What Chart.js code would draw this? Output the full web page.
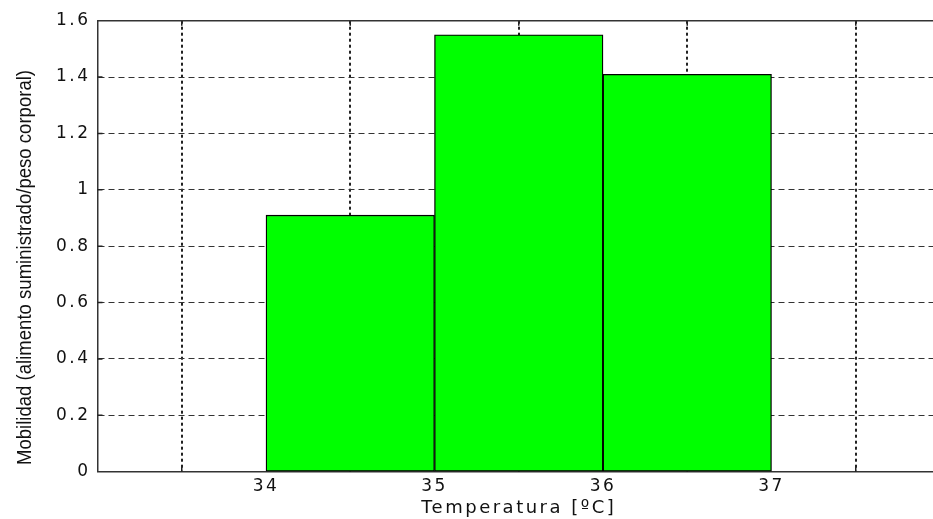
<!DOCTYPE html>
<html>
<head>
<meta charset="utf-8">
<script src="https://cdn.jsdelivr.net/npm/chart.js@4/dist/chart.umd.min.js"></script>
<style>
  html, body { margin: 0; padding: 0; background: #fff; overflow: hidden; width: 933px; height: 519px; }
  #wrap { position: relative; width: 942px; height: 519px; }
</style>
</head>
<body>
<div id="wrap"><canvas id="c"></canvas></div>
<script>
// Histogram bins (centre of each 1 ºC bin) and their mobility values
const binCenters = [34.5, 35.5, 36.5];
const mobility = [0.91, 1.55, 1.41];

// Axis ticks
const xLabelTicks = [34, 35, 36, 37];
const xGridTicks = [33.5, 34.5, 35.5, 36.5, 37.5];
const yTicks = [0, 0.2, 0.4, 0.6, 0.8, 1, 1.2, 1.4, 1.6];
const yTickLabels = ['0', '0.2', '0.4', '0.6', '0.8', '1', '1.2', '1.4', '1.6'];

const xTitle = 'Temperatura [ºC]';
const yTitle = 'Mobilidad (alimento suministrado/peso corporal)';

const X_MIN = 33, X_MAX = 38;
const TEXT_SPACING = '2.5px';
const TRANSPARENT = 'rgba(0,0,0,0)';

// Frame, inner tick marks and the rotated y-axis title
const framePlugin = {
  id: 'frame',
  beforeUpdate(chart) { chart.ctx.letterSpacing = TEXT_SPACING; },
  beforeDraw(chart) { chart.ctx.letterSpacing = TEXT_SPACING; },
  beforeDatasetsDraw(chart) {
    const { ctx, chartArea: a, scales: { xg, y } } = chart;
    ctx.save();
    ctx.strokeStyle = '#222';
    ctx.lineWidth = 1.5;
    ctx.beginPath();
    xGridTicks.forEach(v => {
      const px = xg.getPixelForValue(v);
      ctx.moveTo(px, a.bottom); ctx.lineTo(px, a.bottom - 5);
      ctx.moveTo(px, a.top); ctx.lineTo(px, a.top + 5);
    });
    yTicks.slice(1, -1).forEach(v => {
      const py = y.getPixelForValue(v);
      ctx.moveTo(a.left, py); ctx.lineTo(a.left + 5, py);
    });
    ctx.stroke();
    ctx.restore();
  },
  afterDraw(chart) {
    const { ctx, chartArea: a } = chart;
    ctx.save();
    // top edge of the axes box
    ctx.strokeStyle = '#333';
    ctx.lineWidth = 1.5;
    ctx.beginPath();
    ctx.moveTo(a.left, a.top);
    ctx.lineTo(a.right, a.top);
    ctx.stroke();

    // y-axis title, condensed to the axis height
    ctx.letterSpacing = '0px';
    ctx.font = '21px "Liberation Sans Narrow", "Liberation Sans", Arial, sans-serif';
    const w = ctx.measureText(yTitle).width;
    const target = 395;
    ctx.translate(30.5, 267.5);
    ctx.rotate(-Math.PI / 2);
    ctx.scale(target / w, 1);
    ctx.textAlign = 'center';
    ctx.textBaseline = 'alphabetic';
    ctx.fillStyle = '#111';
    ctx.fillText(yTitle, 0, 0);
    ctx.restore();
  }
};

const tickFont = { family: '"DejaVu Sans", sans-serif', size: 17 };

new Chart(document.getElementById('c'), {
  type: 'bar',
  data: {
    datasets: [{
      xAxisID: 'x',
      data: binCenters.map((x, i) => ({ x: x, y: mobility[i] })),
      backgroundColor: '#00ff00',
      borderColor: '#000',
      borderWidth: 1.3,
      borderSkipped: false,
      barPercentage: 1,
      categoryPercentage: 1
    }]
  },
  options: {
    responsive: true,
    maintainAspectRatio: false,
    animation: false,
    events: [],
    layout: { padding: { top: 20.7, left: 0, right: 2, bottom: 0 } },
    plugins: { legend: { display: false }, tooltip: { enabled: false } },
    scales: {
      // labelled axis: bin edges
      x: {
        type: 'linear',
        position: 'bottom',
        min: X_MIN,
        max: X_MAX,
        offset: false,
        afterBuildTicks: s => { s.ticks = xLabelTicks.map(v => ({ value: v })); },
        afterFit: s => { s.height = 47.3; },
        ticks: {
          autoSkip: false,
          maxRotation: 0,
          padding: 5,
          color: '#111',
          font: tickFont,
          callback: v => String(v)
        },
        grid: { display: false, drawTicks: false },
        border: { display: true, color: '#333', width: 1.5 },
        title: {
          display: true,
          text: xTitle,
          color: '#111',
          font: { family: '"DejaVu Sans", sans-serif', size: 18 },
          padding: { top: 0, bottom: 0 }
        }
      },
      // unlabelled axis carrying the dotted vertical grid
      xg: {
        type: 'linear',
        axis: 'x',
        position: 'bottom',
        min: X_MIN,
        max: X_MAX,
        offset: false,
        afterBuildTicks: s => { s.ticks = xGridTicks.map(v => ({ value: v })); },
        afterFit: s => { s.height = 0; },
        ticks: { display: false },
        grid: { offset: false, drawTicks: false, lineWidth: 2, color: '#222' },
        border: { display: false, dash: [3, 3] }
      },
      y: {
        min: 0,
        max: 1.6,
        afterBuildTicks: s => { s.ticks = yTicks.map(v => ({ value: v })); },
        afterFit: s => { s.width = 97.5; },
        ticks: {
          padding: 7,
          color: '#111',
          font: tickFont,
          callback: (v, i) => yTickLabels[i]
        },
        grid: {
          drawTicks: false,
          lineWidth: 1,
          color: c => (c.index > 0 && c.index < yTicks.length - 1 ? '#333' : TRANSPARENT)
        },
        border: { display: true, color: '#333', width: 1.5, dash: [6, 4] }
      }
    }
  },
  plugins: [framePlugin]
});
</script>
</body>
</html>
